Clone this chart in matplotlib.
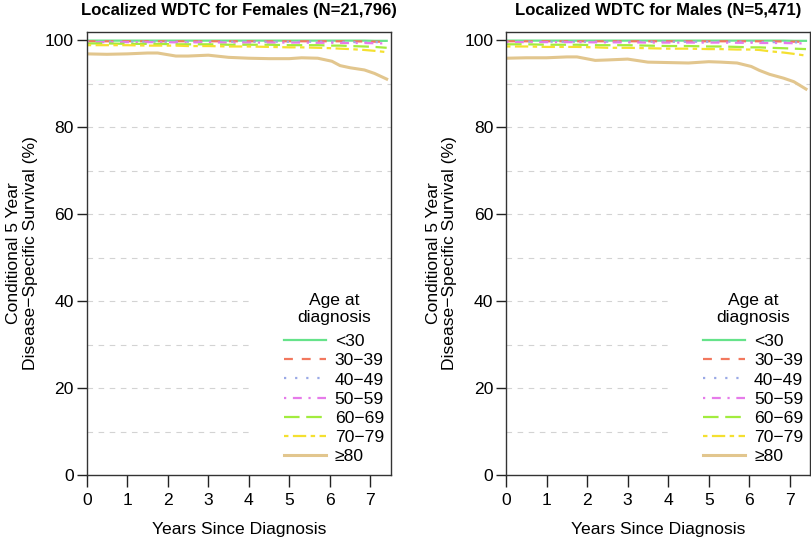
import matplotlib
matplotlib.use("Agg")
import matplotlib.pyplot as plt
from matplotlib.patches import Rectangle

plt.rcParams['font.family'] = ['Liberation Sans', 'DejaVu Sans']

# ---- data ----
years = [0, 0.5, 1, 1.5, 1.75, 2.2, 2.5, 3, 3.5, 4, 4.5, 5, 5.3, 5.7, 6.05, 6.25, 6.5, 6.85, 7.1, 7.4]
age_groups = ["<30", "30\u221239", "40\u221249", "50\u221259", "60\u221269", "70\u221279", "\u226580"]

female = {
    "<30":   [99.95]*18 + [99.9, 99.9],
    "30-39": [99.8]*16 + [99.8, 99.75, 99.7, 99.7],
    "40-49": [99.7]*14 + [99.7, 99.65, 99.6, 99.6, 99.6, 99.55],
    "50-59": [99.6, 99.6, 99.6, 99.6, 99.6, 99.55, 99.55, 99.55, 99.5, 99.5, 99.5, 99.5, 99.5, 99.45, 99.45, 99.4, 99.4, 99.4, 99.35, 99.3],
    "60-69": [99.3, 99.3, 99.2, 99.2, 99.2, 99.1, 99.1, 99.1, 99.0, 99.0, 99.0, 98.9, 98.9, 98.9, 98.8, 98.8, 98.7, 98.6, 98.5, 98.3],
    "70-79": [98.9, 98.9, 98.9, 98.8, 98.8, 98.8, 98.7, 98.7, 98.6, 98.6, 98.5, 98.4, 98.4, 98.3, 98.2, 98.1, 98.0, 97.8, 97.6, 97.3],
    ">=80":  [96.9, 96.8, 96.9, 97.1, 97.1, 96.4, 96.4, 96.6, 96.1, 95.9, 95.8, 95.8, 96.0, 95.9, 95.2, 94.2, 93.7, 93.2, 92.4, 91.1],
}
male = {
    "<30":   [99.95]*18 + [99.9, 99.9],
    "30-39": [99.8]*16 + [99.8, 99.75, 99.7, 99.7],
    "40-49": [99.7]*14 + [99.7, 99.65, 99.6, 99.6, 99.55, 99.5],
    "50-59": [99.6, 99.6, 99.6, 99.6, 99.6, 99.55, 99.55, 99.55, 99.5, 99.5, 99.5, 99.5, 99.5, 99.45, 99.45, 99.4, 99.4, 99.4, 99.35, 99.3],
    "60-69": [99.1, 99.1, 99.0, 99.0, 99.0, 98.9, 98.9, 98.9, 98.8, 98.7, 98.7, 98.6, 98.6, 98.5, 98.4, 98.4, 98.3, 98.2, 98.1, 98.0],
    "70-79": [98.6, 98.6, 98.5, 98.5, 98.5, 98.4, 98.3, 98.3, 98.2, 98.1, 98.1, 98.0, 98.0, 97.9, 97.9, 97.8, 97.5, 97.2, 96.9, 96.5],
    ">=80":  [95.9, 96.0, 96.0, 96.2, 96.2, 95.4, 95.5, 95.7, 95.0, 94.9, 94.8, 95.1, 95.0, 94.8, 94.0, 93.1, 92.2, 91.3, 90.5, 88.8],
}
series_keys = ["<30", "30-39", "40-49", "50-59", "60-69", "70-79", ">=80"]
titles = ["Localized WDTC for Females (N=21,796)", "Localized WDTC for Males (N=5,471)"]
yticks = [0, 20, 40, 60, 80, 100]
xticks = [0, 1, 2, 3, 4, 5, 6, 7]

colors = ["#66E38A", "#F2785E", "#9AA9E6", "#E67BEA", "#A2EC3E", "#F4E030", "#E2C68E"]
styles = ["-", (0, (4, 4)), (0, (1, 4)), (0, (1, 3, 4, 3)), (0, (7, 3)), (0, (2, 2, 6, 2)), "-"]
widths = [1.6, 1.6, 1.6, 1.6, 1.6, 1.6, 2.2]

fig = plt.figure(figsize=(8.12, 5.42), dpi=100)
axes = [fig.add_axes([0.1068, 0.1236, 0.3744, 0.8179]),
        fig.add_axes([0.6232, 0.1236, 0.3744, 0.8179])]

FS = 12.6
for ax, data, title in zip(axes, [female, male], titles):
    for y in range(10, 100, 10):
        ax.axhline(y, color="#D3D3D3", lw=0.8, ls=(0, (5, 5)), zorder=0)
    ax.add_patch(Rectangle((0.537, 0.016), 0.463, 0.415, transform=ax.transAxes,
                           facecolor="white", edgecolor="none", zorder=0.5))
    for key, lab, c, s, w in zip(series_keys, age_groups, colors, styles, widths):
        ax.plot(years, data[key], color=c, ls=s, lw=w, label=lab, zorder=2)
    ax.set_xlim(0, 7.5)
    ax.set_ylim(0, 102)
    ax.set_xticks(xticks)
    ax.set_yticks(yticks)
    ax.tick_params(axis="x", length=8.3, width=1, pad=5, labelsize=FS, colors="#222222", labelcolor="black")
    ax.tick_params(axis="y", length=7.2, width=1, pad=2, labelsize=FS, colors="#222222", labelcolor="black")
    for sp in ax.spines.values():
        sp.set_color("#333333")
        sp.set_linewidth(1)
    ax.set_title(title, fontsize=12, fontweight="bold", pad=12)
    ax.set_xlabel("Years Since Diagnosis", fontsize=FS, labelpad=10)
    ax.set_ylabel("Conditional 5 Year\nDisease\u2212Specific Survival (%)", fontsize=FS, labelpad=5,
                  linespacing=1.15)
    leg = ax.legend(loc="lower right", bbox_to_anchor=(0.978, 0.025), frameon=False,
                    title="Age at\ndiagnosis", fontsize=FS, title_fontsize=FS,
                    handlelength=2.4, handletextpad=0.5, labelspacing=0.22, borderpad=0.0,
                    borderaxespad=0.0)
    leg.get_title().set_multialignment("center")
    leg.get_title().set_linespacing(1.15)
    try:
        leg._legend_box.sep = leg._legend_box.sep + 4
    except Exception:
        pass

fig.savefig("out.png", dpi=100)
